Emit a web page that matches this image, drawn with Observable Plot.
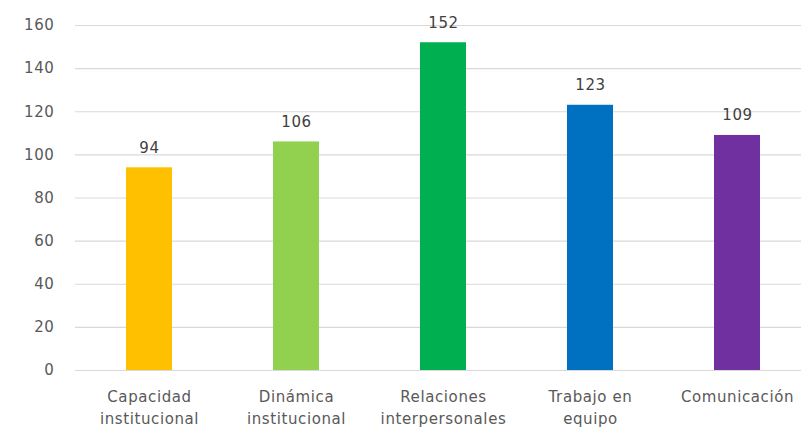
<!DOCTYPE html>
<html>
<head>
<meta charset="utf-8">
<script src="https://cdn.jsdelivr.net/npm/d3@7"></script>
<script src="https://cdn.jsdelivr.net/npm/@observablehq/plot@0.6"></script>
<style>
  html, body { margin: 0; padding: 0; background: #fff; }
  #chart svg { display: block; }
  #chart svg text { letter-spacing: 0.6px; }
</style>
</head>
<body>
<div id="chart"></div>
<script>
const categories = ["Capacidad\ninstitucional", "Dinámica\ninstitucional", "Relaciones\ninterpersonales", "Trabajo en\nequipo", "Comunicación"];
const values = [94, 106, 152, 123, 109];
const colors = ["#FFC000", "#92D050", "#00B050", "#0070C0", "#7030A0"];
const yTicks = [0, 20, 40, 60, 80, 100, 120, 140, 160];

const data = categories.map((c, i) => ({cat: c, value: values[i]}));

const chart = Plot.plot({
  width: 801,
  height: 435,
  marginTop: 25,
  marginBottom: 65,
  marginLeft: 75,
  marginRight: 0,
  style: {fontFamily: "DejaVu Sans, sans-serif", fontSize: "15px", background: "#fff"},
  x: {domain: categories, range: [75, 810], paddingInner: 0.69, paddingOuter: 0.345, label: null},
  y: {domain: [0, 160], label: null},
  color: {domain: categories, range: colors},
  marks: [
    Plot.ruleY(yTicks, {stroke: "#d9d9d9", strokeWidth: 1.2}),
    Plot.barY(data, {x: "cat", y: "value", fill: "cat"}),
    Plot.text(data, {x: "cat", y: "value", text: d => String(d.value), lineAnchor: "bottom", dy: -15, fill: "#404040", fontSize: 15}),
    Plot.axisY({ticks: yTicks, tickSize: 0, tickPadding: 21, fill: "#595959", fontSize: 15, label: null}),
    Plot.axisX({tickSize: 0, tickPadding: 16, fill: "#595959", fontSize: 15, lineHeight: 1.47, label: null})
  ]
});
document.getElementById("chart").appendChild(chart);
</script>
</body>
</html>
